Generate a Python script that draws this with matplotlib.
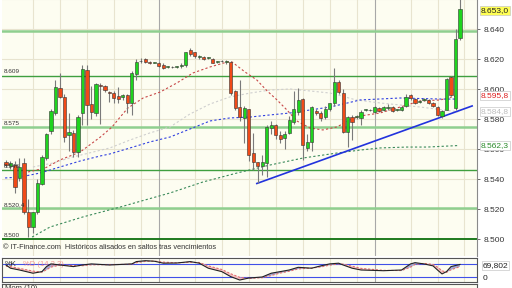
import numpy as np
import matplotlib.pyplot as plt
from matplotlib.transforms import blended_transform_factory

plt.rcParams['font.family'] = ['Liberation Sans', 'DejaVu Sans']

# ---- candle data (points above 8.500, i.e. price = 8.500 + pts/1000) ----
opens = [51, 49, 49.3, 40.7, 50.7, 18, 8, 18, 37, 54, 72, 84, 100.7, 94.7, 69.5, 70.7, 58, 84, 112.7, 90,
         84, 102.7, 102, 98, 97.3, 95, 94.7, 96, 90.7, 110, 118.5, 120, 117.5, 117.5, 117.3, 116, 114.7, 114.7, 114.6, 115.3,
         116, 126, 124.7, 121.3, 121.3, 121, 120, 118, 118.7, 118, 118, 99, 88, 81, 86.7, 57.3, 51.3, 48.7, 50.7, 74,
         76, 69.3, 67.3, 70.7, 78, 84.7, 93.3, 60.7, 64.7, 85.3, 84, 81.3, 86.7, 90.7, 104.7, 97.3, 71.3, 81.3, 81.3, 80.7,
         86, 86, 84.7, 87.3, 86, 87.5, 88, 86, 86, 88.7, 96, 93.3, 91.3, 93, 92.7, 90.7, 88, 82, 86, 108,
         87.3, 134]
highs = [53, 52, 52, 54, 54, 27, 18, 40, 56, 71, 87, 106, 110.5, 97, 84, 73, 83, 116, 116, 102,
         104, 104, 103, 99, 98.5, 101, 97, 97, 112, 120, 121, 121, 118.5, 118, 118, 117, 115.5, 115.5, 115.5, 117,
         125, 127, 125, 123, 122, 121.5, 120.5, 119, 119.5, 119.5, 119, 99.5, 106, 89, 87, 70.7, 51.5, 56, 76, 79,
         76.5, 72, 72, 82, 99, 100.4, 94, 70, 89, 87, 85, 89, 91, 114, 106, 100, 82, 83, 83, 86,
         87, 87, 89, 88, 88.5, 90, 88.5, 87, 88.5, 97, 97, 94, 93, 94, 93.5, 91.5, 89, 86, 107.3, 109,
         140, 160]
lows = [48, 47, 31, 39, 17, 1.3, 4, 17, 36, 53, 70, 83, 94, 65, 59, 55, 55, 76, 76, 80,
        82, 77, 98, 91.5, 91, 91, 93, 84, 83, 106, 117, 117, 116.5, 117, 114.5, 113.5, 114, 114, 114, 114,
        115, 122, 121, 120, 119.5, 120, 117, 117, 118, 116.5, 96, 86, 79, 64, 52, 46, 37.3, 43, 41.3, 70,
        67, 64, 60, 70, 77, 83, 52.7, 59, 59, 83, 79, 80, 85, 89, 97, 71, 61.3, 66, 80, 76,
        85, 85, 84, 84.5, 85.5, 86, 84.5, 85, 85.5, 88, 93, 90, 90.5, 92, 90, 88, 82, 81, 86, 95,
        86, 133]
closes = [49.5, 50.5, 34.7, 48, 18, 8, 18, 37.3, 55, 70, 85, 101, 94.7, 68, 71, 58, 81.3, 113.3, 89.3, 84.7,
          103.3, 102, 99.3, 97.5, 94, 93.5, 96, 90.7, 110.7, 118, 119, 118, 117.3, 117.5, 115.3, 114, 114.7, 114.5, 114.8, 115.5,
          124.7, 123.3, 122, 121.5, 120, 121.2, 117.3, 118.2, 118.5, 118.2, 97.3, 87.3, 81.3, 87, 56, 51.3, 48.7, 51.3, 74.7, 76,
          69.3, 66.7, 70, 79.3, 86.7, 92.7, 62.7, 64.7, 88, 84, 80.7, 86.7, 90.7, 104.7, 98, 71.3, 81.3, 78, 81.5, 84.7,
          86.2, 85.8, 88, 85.3, 88, 87.6, 85.3, 86.1, 88, 94.7, 94, 90.7, 92, 93.1, 90.7, 88.7, 82.7, 85.3, 106.7, 96,
          133.3, 153]

# moving averages (candle index, points)
red_ma_x = [4.9, 8.7, 12, 16.5, 21, 23.6, 25.4, 27.1, 30.5, 34.3, 38, 41.6, 45.4, 49.2, 50.3, 53.2, 55.8, 58.1,
            60.3, 62.5, 64.7, 67.6, 70.5, 73.6, 76.5, 78.8, 83.2, 87.7, 92.1, 96.6, 100.6]
red_ma_y = [44.7, 47.3, 52.7, 58, 68, 74.7, 81.3, 87.3, 94, 98, 104, 110.7, 114.7, 118, 118, 111.3, 106, 98.7,
            92.7, 86, 78.7, 74, 72.7, 74.7, 79.3, 82, 84, 88, 92, 92.7, 95.8]
gray_ma_x = [6, 10.5, 14.9, 19.4, 23.1, 27.6, 32, 36.5, 40.9, 45.4, 49.8, 54.3, 58.7, 63.2, 67.6, 72.1, 74.7,
             77.9, 83.2, 92.1, 100.6]
gray_ma_y = [48, 50.7, 54.7, 58, 60.7, 66, 70.7, 74.7, 83.3, 90, 94.7, 97.3, 99.3, 100, 98.7, 97.3, 95.3,
             92.7, 90.7, 88, 84.8]
blue_ma_x = [-0.2, 3.1, 7.6, 12, 16.5, 20.9, 23.1, 27.6, 32, 36.5, 40.9, 45.4, 49.8, 54.3, 58.7, 63.2, 67.6,
             72.1, 75, 78.8, 87.7, 96.6, 100.3]
blue_ma_y = [40.7, 41.3, 44, 48, 52, 55.3, 56.7, 60.7, 64.7, 68, 73.3, 78.7, 80.7, 81.3, 82.7, 84, 86,
             88, 90, 92.7, 94, 93.3, 93.3]
green_ma_x = [5.8, 9.8, 17.1, 25.4, 30.9, 36.5, 43.8, 51.4, 58.7, 66.1, 73.6, 78.8, 83.2, 89.2, 93.7, 100.6]
green_ma_y = [1.3, 8, 14.7, 21.3, 26, 30.7, 38, 44, 49.3, 54, 57.3, 59.3, 60.7, 61.3, 61.3, 62.3]

trend_x = [55.8, 103.7]
trend_y = [37, 88.7]

# support / resistance levels
levels = [8.639, 8.609, 8.5747, 8.546, 8.5204, 8.500]
level_labels = ['', '8.609', '8.575', '8.546', '8.520,4', '8.500']

# stochastic panel
ind_x = [0, 1, 3, 6, 8, 9, 10, 12, 15, 17, 19, 23, 28, 29, 31, 33, 35, 38, 41, 43, 45, 48, 50, 52, 54, 57,
         59, 61, 63, 65, 68, 70, 72, 74, 75, 77, 79, 84, 88, 90, 91, 93, 95, 96, 97, 98, 99, 101]
k_vals = [67, 49, 39, 21, 30, 58, 73, 67, 58, 67, 73, 67, 73, 86, 91, 88, 77, 78, 86, 77, 49, 30, 2, -17, -6, 0,
          21, 30, 39, 54, 49, 62, 73, 77, 67, 49, 39, 35, 39, 73, 80, 73, 62, 39, 17, 30, 58, 70]
d_vals = [60, 58, 48, 33, 27, 40, 55, 67, 64, 63, 68, 69, 71, 80, 87, 89, 83, 79, 82, 81, 62, 42, 18, -2, -8, -4,
          8, 22, 32, 45, 50, 56, 66, 73, 72, 60, 48, 37, 36, 55, 70, 76, 70, 55, 35, 26, 40, 58]

grid_x = [6, 12, 18, 24, 30, 42, 48, 54, 60, 66, 72, 78, 90, 96, 102]
sep_x = [34, 82]


def to_price(pts):
    return 8.5 + np.asarray(pts, dtype=float) / 1000


o, h, l, c = map(to_price, (opens, highs, lows, closes))
x = np.arange(len(o))

W, H = 512, 288
fig = plt.figure(figsize=(W / 100, H / 100), dpi=100, facecolor='white')
bg = '#fdfdf1'


def px_axes(x0, y0, x1, y1):
    return fig.add_axes([x0 / W, 1 - y1 / H, (x1 - x0) / W, (y1 - y0) / H])


ax = px_axes(2, 0, 477, 256)
ax.set_facecolor(bg)
ax.set_xlim((2 - 6) / 4.495, (477 - 6) / 4.495)
ax.set_ylim(8.5 - 17 / 1.5 / 1000, 8.5 + 239 / 1.5 / 1000)

for gy in np.arange(8.52, 8.661, 0.02):
    ax.axhline(gy, color='#e8e4cf', lw=0.8, zorder=0)
for gx in grid_x:
    ax.axvline(gx, color='#e8e4cf', lw=0.8, zorder=0)
for gx in sep_x:
    ax.axvline(gx, color='#a8a8a8', lw=0.8, zorder=0.5)

lv_style = [('#8fcf8f', 1.8), ('#3f9f3f', 1.0), ('#8fcf8f', 1.8), ('#3f9f3f', 1.0), ('#8fcf8f', 1.8),
            ('#1e7a1e', 1.4)]
for lv, lab, (col, lw) in zip(levels, level_labels, lv_style):
    ax.axhline(lv, color=col, lw=lw, zorder=1)
    if lab:
        ax.text(-0.39, lv + 0.0008, lab, fontsize=4.6, color='#333333', va='bottom', ha='left', zorder=6)

# moving averages
dash = (0, (2, 2))
ax.plot(green_ma_x, to_price(green_ma_y), color='#3a8a5a', lw=0.8, ls=dash, zorder=2)
ax.plot(gray_ma_x, to_price(gray_ma_y), color='#cfcfcf', lw=0.8, ls=dash, zorder=2)
ax.plot(blue_ma_x, to_price(blue_ma_y), color='#3040e0', lw=0.8, ls=dash, zorder=2)
ax.plot(red_ma_x, to_price(red_ma_y), color='#c84848', lw=0.8, ls=dash, zorder=2)
ax.plot(trend_x, to_price(trend_y), color='#2233dd', lw=1.2, zorder=2.5)

# candles
up = c >= o
ax.vlines(x, l, h, color='#7a7a7a', lw=0.8, zorder=3)
body = np.maximum(np.abs(c - o), 0.0004)
ax.bar(x, body, bottom=np.minimum(o, c), width=0.72,
       color=np.where(up, '#1fd41f', '#f04a18'), edgecolor='#333333', linewidth=0.4, zorder=4)

ax.text(0.002, 0.02, '\u00a9 IT-Finance.com  Hist\u00f3ricos alisados en saltos tras vencimientos',
        transform=ax.transAxes, fontsize=5.3, color='#333333', va='bottom', ha='left')

# right price axis
ax.yaxis.tick_right()
ax.set_yticks(np.arange(8.50, 8.641, 0.02))
ax.set_yticklabels([f'{v:.3f}' for v in np.arange(8.50, 8.641, 0.02)])
ax.tick_params(axis='y', labelsize=6, length=2.5, width=0.6, color='#555555', pad=2, labelcolor='#333333')
ax.set_xticks([])
tr = blended_transform_factory(ax.transAxes, ax.transData)
ax.text(1.012, 8.6605, '8.660', transform=tr, fontsize=6, color='#333333', va='center', ha='left',
        clip_on=False, zorder=11)
for sp in ('top', 'left', 'bottom'):
    ax.spines[sp].set_visible(False)
ax.spines['right'].set_color('#8a8a8a')
ax.spines['right'].set_linewidth(0.8)

boxes = [(8.6525, '8.653,0', '#222222', '#ffff55'), (8.5958, '8.595,8', '#dd2020', 'white'),
         (8.5848, '8.584,8', '#bdbdbd', 'white'), (8.5623, '8.562,3', '#2a8a2a', 'white')]
for yv, txt, tc, fc in boxes:
    ax.text(1.008, yv, txt, transform=tr, fontsize=6, color=tc, va='center', ha='left', zorder=10,
            clip_on=False, bbox=dict(boxstyle='square,pad=0.12', fc=fc, ec='#c8c8c8', lw=0.5))

# stochastic panel
ax2 = px_axes(2, 258, 477, 282)
ax2.set_facecolor(bg)
ax2.set_xlim(ax.get_xlim())
ax2.set_ylim(-28, 106)
for gx in grid_x:
    ax2.axvline(gx, color='#e8e4cf', lw=0.8, zorder=0)
for gx in sep_x:
    ax2.axvline(gx, color='#a8a8a8', lw=0.8, zorder=0.5)
ax2.axhline(70, color='#4050e8', lw=0.8, zorder=1)
ax2.axhline(0, color='#4050e8', lw=0.8, zorder=1)
kk = np.array(k_vals, float)
dd = np.array(d_vals, float)
ax2.fill_between(ind_x, kk, dd, where=kk >= dd, interpolate=True, color='#a4a8d4', lw=0, zorder=2)
ax2.fill_between(ind_x, kk, dd, where=kk < dd, interpolate=True, color='#f6c0c0', lw=0, zorder=2)
ax2.plot(ind_x, dd, color='#e07070', lw=0.8, ls=(0, (2, 1.5)), zorder=3)
ax2.plot(ind_x, kk, color='#222222', lw=0.8, zorder=4)
ax2.text(0.006, 0.75, '%K', transform=ax2.transAxes, fontsize=5.5, color='#333333', va='center')
ax2.text(0.045, 0.75, '%D (14,3,3)', transform=ax2.transAxes, fontsize=5.5, color='#f08080', va='center', alpha=0.8)
ax2.set_xticks([])
ax2.set_yticks([])
for sp in ax2.spines.values():
    sp.set_color('#555555')
    sp.set_linewidth(0.8)
tr2 = blended_transform_factory(ax2.transAxes, ax2.transData)
ax2.text(1.012, 66, '69,802', transform=tr2, fontsize=6, color='#222222', va='center', ha='left', clip_on=False,
         bbox=dict(boxstyle='square,pad=0.12', fc='white', ec='#c8c8c8', lw=0.5))
ax2.text(1.012, -6, '0', transform=tr2, fontsize=6, color='#222222', va='center', ha='left', clip_on=False)

# momentum panel (cut at the bottom)
ax3 = px_axes(2, 284, 477, 300)
ax3.set_facecolor(bg)
ax3.set_xticks([])
ax3.set_yticks([])
for sp in ax3.spines.values():
    sp.set_color('#555555')
    sp.set_linewidth(0.8)
ax3.text(0.006, 0.93, 'Mom (10)', transform=ax3.transAxes, fontsize=5.5, color='#333333', va='top')

fig.savefig('out.png', dpi=100, facecolor='white')
